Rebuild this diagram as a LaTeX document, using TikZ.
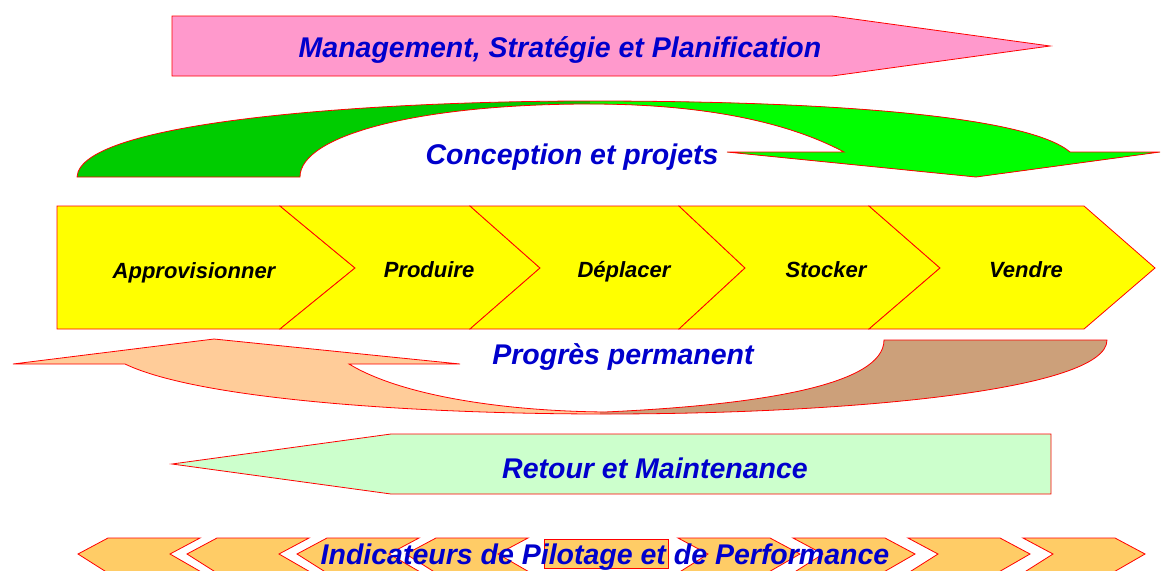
\documentclass[tikz,border=0pt]{standalone}
\usepackage{fontspec}
\setmainfont{Liberation Sans}
\definecolor{rose}{RGB}{255,153,204}
\definecolor{vertfonce}{RGB}{0,204,0}
\definecolor{vertclair}{RGB}{0,255,0}
\definecolor{jaune}{RGB}{255,255,0}
\definecolor{peche}{RGB}{255,204,153}
\definecolor{brun}{RGB}{204,160,122}
\definecolor{vertpale}{RGB}{204,255,204}
\definecolor{orangepale}{RGB}{255,204,102}
\definecolor{bleutexte}{RGB}{0,0,204}

\begin{document}
\begin{tikzpicture}[x=1pt, y=-1pt,
    bord/.style={draw=red, line width=0.8pt, line join=miter},
    titre/.style={font=\fontsize{28.5}{30}\selectfont\bfseries\itshape,
                  text=bleutexte, anchor=base, inner sep=0pt},
    etape/.style={font=\fontsize{22}{24}\selectfont\bfseries\itshape,
                  anchor=base, inner sep=0pt}]
  \useasboundingbox (0,0) rectangle (1161,570);

  % management arrow
  \draw[bord, fill=rose] (172,16) -- (832,16) -- (1050,46) -- (832,76) -- (172,76) -- cycle;
  \node[titre] (mgmt) at (560,57) {Management, Stratégie et Planification};

  % conception arc
  \draw[bord, fill=vertfonce,
        path picture={\fill[vertclair] (590,80) rectangle (1200,200);}]
    (77,177) .. controls (80,120) and (380,101) .. (590,101)
    .. controls (850,101) and (1030,118) .. (1070,152)
    -- (1160,152) -- (976,177) -- (727,152) -- (844,152)
    .. controls (780,118) and (690,104) .. (590,104)
    .. controls (420,104) and (300,135) .. (300,177) -- cycle;
  \node[titre] (concep) at (572,164) {Conception et projets};

  % process chain
  \draw[bord, fill=jaune] (57,206) -- (280,206) -- (355,268) -- (280,329) -- (57,329) -- cycle;
  \draw[bord, fill=jaune] (280,206) -- (470,206) -- (540,268) -- (470,329) -- (280,329) -- (355,268) -- cycle;
  \draw[bord, fill=jaune] (470,206) -- (679,206) -- (745,268) -- (679,329) -- (470,329) -- (540,268) -- cycle;
  \draw[bord, fill=jaune] (679,206) -- (869,206) -- (940,268) -- (869,329) -- (679,329) -- (745,268) -- cycle;
  \draw[bord, fill=jaune] (869,206) -- (1084,206) -- (1155,268) -- (1084,329) -- (869,329) -- (940,268) -- cycle;
  \node[etape] (appro) at (194,278) {Approvisionner};
  \node[etape] (prod) at (429,277) {Produire};
  \node[etape] (depl) at (624,277) {Déplacer};
  \node[etape] (stock) at (826,277) {Stocker};
  \node[etape] (vendre) at (1026,277) {Vendre};

  % progres arc
  \draw[bord, fill=peche,
        path picture={\fill[brun] (600,330) rectangle (1200,420);}]
    (13,364) -- (214,339) -- (460,364) -- (349,364)
    .. controls (400,395) and (500,411) .. (605,412)
    .. controls (760,405) and (884,385) .. (884,340)
    -- (1107,340)
    .. controls (1107,390) and (850,414) .. (605,414)
    .. controls (420,414) and (200,400) .. (125,364) -- cycle;
  \node[titre] (progres) at (623,364) {Progrès permanent};

  % retour arrow
  \draw[bord, fill=vertpale] (172,464) -- (391,434) -- (1051,434) -- (1051,494) -- (391,494) -- cycle;
  \node[titre] (retour) at (655,478) {Retour et Maintenance};

  % indicateurs row (cut by the lower edge)
  \draw[bord, fill=orangepale] (78,554) -- (108,538) -- (200,538) -- (170,554) -- (203,573) -- (108,573) -- cycle;
  \draw[bord, fill=orangepale] (187,554) -- (217,538) -- (309,538) -- (279,554) -- (312,573) -- (217,573) -- cycle;
  \draw[bord, fill=orangepale] (297,554) -- (327,538) -- (419,538) -- (389,554) -- (422,573) -- (327,573) -- cycle;
  \draw[bord, fill=orangepale] (406,554) -- (436,538) -- (528,538) -- (498,554) -- (531,573) -- (436,573) -- cycle;
  \draw[bord, fill=orangepale] (544,539) rectangle (668,568);
  \draw[bord, fill=orangepale] (678,538) -- (770,538) -- (800,554) -- (767,573) -- (678,573) -- (708,554) -- cycle;
  \draw[bord, fill=orangepale] (793,538) -- (885,538) -- (915,554) -- (882,573) -- (793,573) -- (823,554) -- cycle;
  \draw[bord, fill=orangepale] (908,538) -- (1000,538) -- (1030,554) -- (997,573) -- (908,573) -- (938,554) -- cycle;
  \draw[bord, fill=orangepale] (1023,538) -- (1115,538) -- (1145,554) -- (1112,573) -- (1023,573) -- (1053,554) -- cycle;
  \node[titre] (indic) at (605,564) {Indicateurs de Pilotage et de Performance};
\end{tikzpicture}
\end{document}
